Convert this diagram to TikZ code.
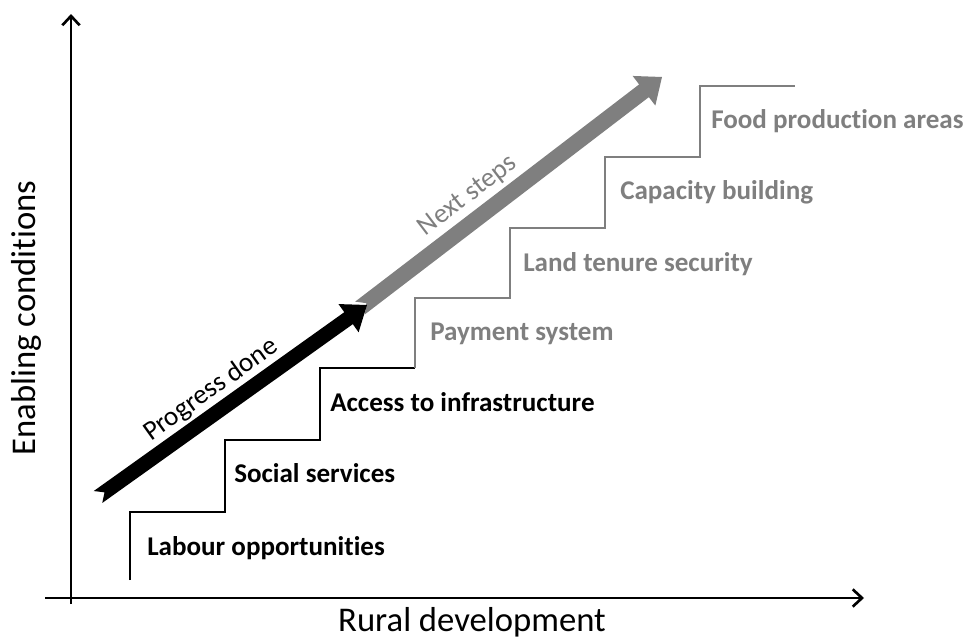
\documentclass[tikz,border=0pt]{standalone}
\usepackage{fontspec}
\setmainfont{Carlito}[Ligatures=NoCommon]
\usetikzlibrary{calc,arrows.meta}
\definecolor{stepgray}{RGB}{127,127,127}
\newcommand\blockarr[5]{%
  \coordinate (#1-h) at ($(#2)!17pt!(#1)$);
  \fill[#3] ($(#1)!6pt!(#2)$) -- ($(#1)!#4!90:(#2)$) -- ($(#1-h)!#4!90:(#2)$)
    -- ($(#1-h)!#5!90:(#2)$) -- (#2) -- ($(#1-h)!#5!-90:(#2)$)
    -- ($(#1-h)!#4!-90:(#2)$) -- ($(#1)!#4!-90:(#2)$) -- cycle;}
\begin{document}
\begin{tikzpicture}[x=0.75pt,y=-0.75pt,
  axis/.style={line width=2pt,-{Straight Barb[length=7pt,width=13pt,line width=2pt]}},
  stairblack/.style={line width=1.4pt,black,line join=miter},
  stairgray/.style={line width=1.4pt,stepgray,line join=miter},
  lbl/.style={font=\fontsize{20.3}{24}\selectfont\bfseries,anchor=base west,inner sep=0pt},
  arrlbl/.style={font=\fontsize{20.5}{24}\selectfont,inner sep=0pt},
  axlbl/.style={font=\fontsize{26}{30}\selectfont,inner sep=0pt,anchor=base}]
\useasboundingbox (0,0) rectangle (965,639);
% axes
\coordinate (ybot) at (71,604);
\coordinate (ytop) at (71,14);
\coordinate (xleft) at (45,598);
\coordinate (xright) at (864,598);
\draw[axis] (ybot) -- (ytop);
\draw[axis] (xleft) -- (xright);
% stairs
\coordinate (s0) at (130,580);
\coordinate (s1) at (130,512); \coordinate (s2) at (225,512);
\coordinate (s3) at (225,440); \coordinate (s4) at (320,440);
\coordinate (s5) at (320,368); \coordinate (s6) at (415,368);
\coordinate (s7) at (415,298); \coordinate (s8) at (510,298);
\coordinate (s9) at (510,228); \coordinate (s10) at (605,228);
\coordinate (s11) at (605,157); \coordinate (s12) at (700,157);
\coordinate (s13) at (700,86); \coordinate (s14) at (795,86);
\draw[stairblack] (s0) -- (s1) -- (s2) -- (s3) -- (s4) -- (s5) -- (s6);
\draw[stairgray] (s6) -- (s7) -- (s8) -- (s9) -- (s10) -- (s11) -- (s12) -- (s13) -- (s14);
% labels
\node[lbl] (l1) at (147,555) {Labour opportunities};
\node[lbl] (l2) at (234,482) {Social services};
\node[lbl] (l3) at (330,411) {Access to infrastructure};
\node[lbl,text=stepgray] (l4) at (430,340) {Payment system};
\node[lbl,text=stepgray] (l5) at (523,271) {Land tenure security};
\node[lbl,text=stepgray] (l6) at (620,199) {Capacity building};
\node[lbl,text=stepgray] (l7) at (711,128) {Food production areas};
% block arrows
\coordinate (ga) at (360,308); \coordinate (gb) at (662,77);
\coordinate (ba) at (98,497); \coordinate (bb) at (367,305);
\blockarr{ga}{gb}{stepgray}{6pt}{14pt}
\blockarr{ba}{bb}{black}{5.5pt}{13pt}
\node[arrlbl,rotate=35.5] (pd) at (211,390) {Progress done};
\node[arrlbl,rotate=37.4,text=stepgray] (ns) at (468,196) {Next steps};
% axis labels
\node[axlbl,rotate=90] (yl) at (36,318) {Enabling conditions};
\node[axlbl] (xl) at (472,631) {Rural development};
\end{tikzpicture}
\end{document}
